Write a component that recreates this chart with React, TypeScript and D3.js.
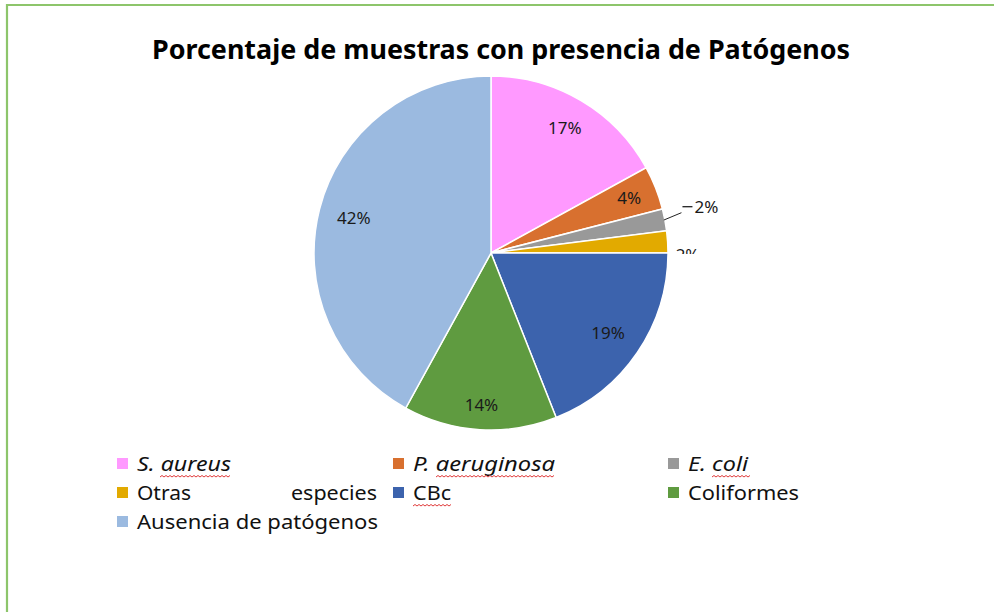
import React from "react";
import * as d3 from "d3";

const categories = [
  "S. aureus",
  "P. aeruginosa",
  "E. coli",
  "Otras especies",
  "CBc",
  "Coliformes",
  "Ausencia de patógenos",
];
const values = [17, 4, 2, 2, 19, 14, 42];
const labels = ["17%", "4%", "2%", "2%", "19%", "14%", "42%"];
const colors = ["#FF99FF", "#D8702F", "#999999", "#E2AA00", "#3C63AD", "#5F9B40", "#9BBAE0"];

const W = 994;
const H = 612;
const cx = 491;
const cy = 253;
const R = 177;
const FONT = "'Noto Sans', 'Open Sans', sans-serif";

function wavy(x0: number, x1: number, y: number) {
  const p = d3.path();
  p.moveTo(x0, y);
  let up = true;
  for (let x = x0 + 2; x <= x1; x += 2) {
    p.lineTo(x, up ? y - 1.5 : y);
    up = !up;
  }
  return p.toString();
}

export default function App() {
  const pie = d3.pie<number>().sort(null).value((d) => d);
  const arcs = pie(values);
  const arc = d3.arc<d3.PieArcDatum<number>>().innerRadius(0).outerRadius(R);
  const polar = (a: number, r: number) => [Math.sin(a) * r, -Math.cos(a) * r];
  const mid = (d: d3.PieArcDatum<number>) => (d.startAngle + d.endAngle) / 2;
  const labelR = [0.82, 0.84, 0, 0, 0.8, 0.86, 0.8];

  const legendItems = [
    { i: 0, col: 0, row: 0, italic: true, len: 94 },
    { i: 1, col: 1, row: 0, italic: true, len: 142 },
    { i: 2, col: 2, row: 0, italic: true, len: 60 },
    { i: 3, col: 0, row: 1, italic: false, len: 0 },
    { i: 4, col: 1, row: 1, italic: false, len: 38 },
    { i: 5, col: 2, row: 1, italic: false, len: 111 },
    { i: 6, col: 0, row: 2, italic: false, len: 241 },
  ];
  const colX = [117, 393, 668];
  const rowY = [464, 493, 522];

  return (
    <svg width={W} height={H} style={{ display: "block", position: "absolute", left: 0, top: 0 }}>
      <rect x={0} y={0} width={W} height={H} fill="#fff" />
      <path d={`M7,${H} L7,5 L${W},5`} fill="none" stroke="#8DC56B" strokeWidth={2.2} />
      <text
        x={501}
        y={59}
        textAnchor="middle"
        fontFamily={FONT}
        fontWeight="bold"
        fontSize={26}
        textLength={698}
        lengthAdjust="spacingAndGlyphs"
        fill="#000"
      >
        Porcentaje de muestras con presencia de Patógenos
      </text>
      <defs>
        <clipPath id="clipOtras">
          <rect x={-cx} y={-cy} width={W} height={cy + 1} />
        </clipPath>
      </defs>
      <g transform={`translate(${cx},${cy})`}>
        {arcs.map((d, i) => (
          <path key={i} d={arc(d) || ""} fill={colors[i]} stroke="#fff" strokeWidth={1.5} />
        ))}
        {arcs.map((d, i) => {
          if (i === 2 || i === 3) return null;
          const [x, y] = polar(mid(d), R * labelR[i]);
          return (
            <text
              key={"l" + i}
              x={x}
              y={y}
              dy="0.35em"
              textAnchor="middle"
              fontFamily={FONT}
              fontSize={17}
              fill="#1a1a1a"
            >
              {labels[i]}
            </text>
          );
        })}
        {(() => {
          const d = arcs[2];
          const [x0, y0] = polar(mid(d), R - 1);
          const [x1, y1] = polar(mid(d) - 0.05, R + 19);
          return (
            <g>
              <polyline
                points={`${x0},${y0} ${x1},${y1 + 6}`}
                fill="none"
                stroke="#222"
                strokeWidth={1}
              />
              <line x1={x1 + 1} y1={y1} x2={x1 + 11} y2={y1} stroke="#222" strokeWidth={1.3} />
              <text x={x1 + 13} y={y1} dy="0.35em" fontFamily={FONT} fontSize={17} fill="#1a1a1a">
                {labels[2]}
              </text>
            </g>
          );
        })()}
        {(() => {
          const d = arcs[3];
          const [x, y] = polar(mid(d), R + 8);
          return (
            <text
              x={x}
              y={y + 14}
              dy="0.35em"
              fontFamily={FONT}
              fontSize={17}
              fill="#1a1a1a"
              clipPath="url(#clipOtras)"
            >
              {labels[3]}
            </text>
          );
        })()}
      </g>
      {legendItems.map(({ i, col, row, italic, len }) => {
        const x = colX[col];
        const y = rowY[row];
        const tx = x + 20;
        return (
          <g key={"lg" + i}>
            <rect x={x} y={y - 6} width={11} height={11} fill={colors[i]} />
            {i === 3 ? (
              <g>
                <text x={tx} y={y} dy="0.35em" fontFamily={FONT} fontSize={19} fill="#111" textLength={54} lengthAdjust="spacingAndGlyphs">
                  Otras
                </text>
                <text x={377} y={y} dy="0.35em" textAnchor="end" fontFamily={FONT} fontSize={19} fill="#111" textLength={86} lengthAdjust="spacingAndGlyphs">
                  especies
                </text>
              </g>
            ) : (
              <text
                x={tx}
                y={y}
                dy="0.35em"
                fontFamily={FONT}
                fontSize={19}
                fontStyle={italic ? "italic" : "normal"}
                fill="#111"
                textLength={len}
                lengthAdjust="spacingAndGlyphs"
              >
                {categories[i]}
              </text>
            )}
          </g>
        );
      })}
      <path d={wavy(160, 231, 477)} fill="none" stroke="#E03A3A" strokeWidth={1} />
      <path d={wavy(436, 555, 477)} fill="none" stroke="#E03A3A" strokeWidth={1} />
      <path d={wavy(712, 750, 477)} fill="none" stroke="#E03A3A" strokeWidth={1} />
      <path d={wavy(413, 451, 506)} fill="none" stroke="#E03A3A" strokeWidth={1} />
    </svg>
  );
}
